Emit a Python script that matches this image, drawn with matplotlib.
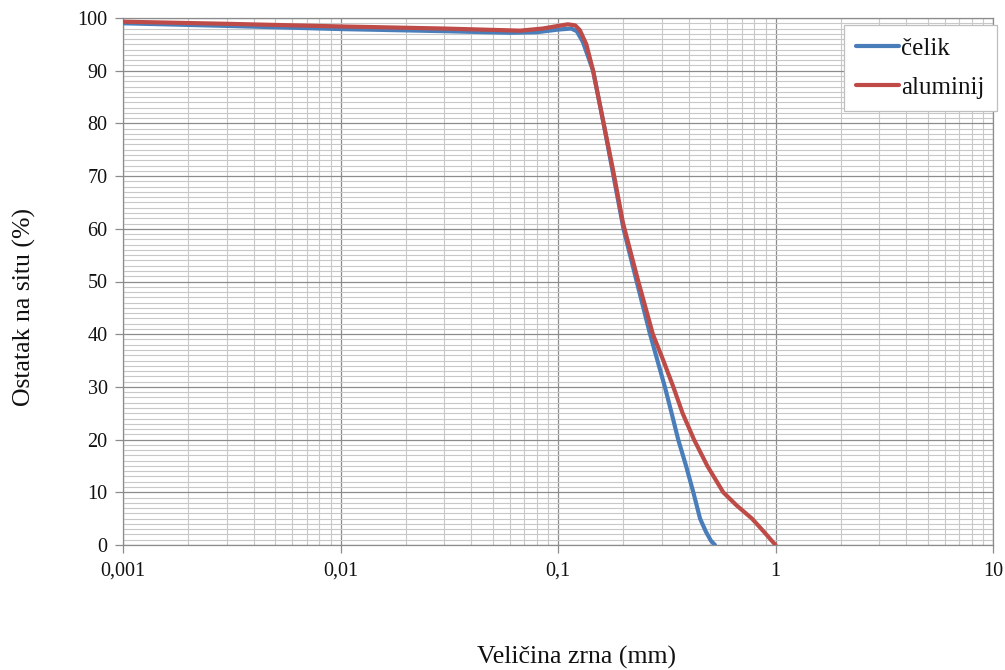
import matplotlib
matplotlib.use("Agg")
import matplotlib.pyplot as plt
from matplotlib.ticker import FixedLocator, LogLocator, NullFormatter, MultipleLocator

# ---- data ----
celik_x = [0.001, 0.003, 0.01, 0.03, 0.06, 0.08, 0.1, 0.115, 0.122, 0.13, 0.145,
           0.162, 0.18, 0.2, 0.23, 0.265, 0.31, 0.333, 0.357, 0.388, 0.419, 0.45,
           0.479, 0.505, 0.527]
celik_y = [99.0, 98.5, 97.9, 97.5, 97.2, 97.3, 97.8, 98.0, 97.5, 95.5, 90.0,
           80.0, 70.0, 60.0, 50.0, 40.0, 30.0, 25.0, 20.0, 15.0, 10.0, 5.0,
           2.5, 0.8, 0.0]

alu_x = [0.001, 0.003, 0.01, 0.03, 0.067, 0.085, 0.1, 0.111, 0.12, 0.126, 0.135,
         0.145, 0.161, 0.179, 0.199, 0.233, 0.273, 0.305, 0.339, 0.374, 0.422,
         0.486, 0.575, 0.663, 0.78, 0.885, 1.0]
alu_y = [99.3, 98.9, 98.4, 98.0, 97.6, 98.0, 98.5, 98.8, 98.6, 97.7, 95.0,
         90.0, 80.6, 71.2, 61.1, 50.3, 40.0, 35.0, 30.0, 25.0, 20.0,
         15.0, 10.0, 7.5, 5.0, 2.5, 0.0]

x_ticks = [0.001, 0.01, 0.1, 1, 10]
x_tick_labels = ["0,001", "0,01", "0,1", "1", "10"]
y_ticks = [0, 10, 20, 30, 40, 50, 60, 70, 80, 90, 100]

series_names = ["čelik", "aluminij"]
colors = ["#4A7EBB", "#BE4B48"]

plt.rcParams['font.family'] = ['Liberation Serif', 'DejaVu Serif']

fig = plt.figure(figsize=(10.05, 6.70), dpi=100)
ax = fig.add_axes([123/1005, 1-545/670, (993-123)/1005, (545-18)/670])

ax.plot(celik_x, celik_y, color=colors[0], lw=3.0, label=series_names[0],
        solid_capstyle='round', solid_joinstyle='round', zorder=3)
ax.plot(alu_x, alu_y, color=colors[1], lw=3.0, label=series_names[1],
        solid_capstyle='round', solid_joinstyle='round', zorder=4)

ax.set_xscale('log')
ax.set_xlim(0.001, 10)
ax.set_ylim(0, 100)

ax.xaxis.set_major_locator(FixedLocator(x_ticks))
ax.set_xticklabels(x_tick_labels)
ax.xaxis.set_minor_locator(LogLocator(base=10, subs=range(2, 10), numticks=100))
ax.xaxis.set_minor_formatter(NullFormatter())
ax.yaxis.set_major_locator(FixedLocator(y_ticks))
ax.yaxis.set_minor_locator(MultipleLocator(1))

ax.grid(which='major', color='#8C8C8C', lw=0.9, zorder=1)
ax.grid(which='minor', color='#C8C8C8', lw=0.8, zorder=0)
ax.set_axisbelow(True)

ax.tick_params(which='major', direction='out', length=6, width=0.9, color='#8C8C8C',
               labelsize=14.5, labelcolor='#111111', pad=5)
ax.tick_params(which='minor', length=0)
ax.tick_params(axis='x', pad=6)

for s in ax.spines.values():
    s.set_color('#8C8C8C')
    s.set_linewidth(0.9)

fig.text(576/1005, 1-657/670, "Veličina zrna (mm)", ha='center', va='center', fontsize=18.5, color='#111111')
fig.text(24/1005, 1-307/670, "Ostatak na situ (%)", ha='center', va='center', rotation=90,
         fontsize=18.5, color='#111111')

leg = fig.legend(loc='upper right', bbox_to_anchor=(997/1005, 1-25/670), fontsize=18,
                 frameon=True, fancybox=False, edgecolor='#BFBFBF', framealpha=1,
                 handlelength=1.7, handletextpad=0.1, labelspacing=0.65,
                 borderpad=0.5, borderaxespad=0)
leg.get_frame().set_linewidth(0.9)
for t in leg.get_texts():
    t.set_color('#111111')

fig.savefig("out.png", dpi=100)
